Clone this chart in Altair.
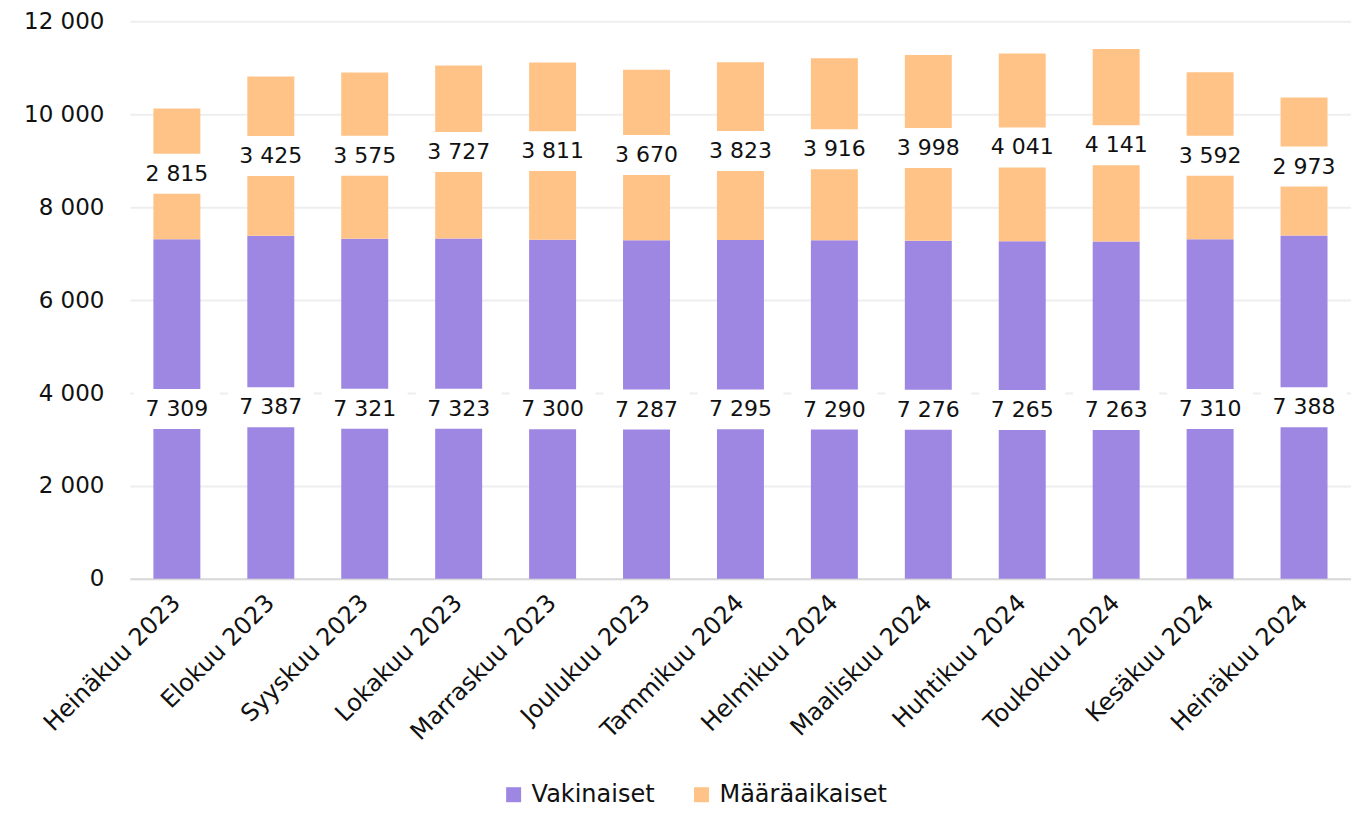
import altair as alt
import pandas as pd

months = ["Heinäkuu 2023", "Elokuu 2023", "Syyskuu 2023", "Lokakuu 2023", "Marraskuu 2023",
          "Joulukuu 2023", "Tammikuu 2024", "Helmikuu 2024", "Maaliskuu 2024", "Huhtikuu 2024",
          "Toukokuu 2024", "Kesäkuu 2024", "Heinäkuu 2024"]
vakinaiset = [7309, 7387, 7321, 7323, 7300, 7287, 7295, 7290, 7276, 7265, 7263, 7310, 7388]
maaraaikaiset = [2815, 3425, 3575, 3727, 3811, 3670, 3823, 3916, 3998, 4041, 4141, 3592, 2973]
series = ["Vakinaiset", "Määräaikaiset"]
colors = ["#9E86E3", "#FFC388"]

rows = []
for m, v, t in zip(months, vakinaiset, maaraaikaiset):
    rows.append({"month": m, "series": series[0], "start": 0, "end": v, "value": v})
    rows.append({"month": m, "series": series[1], "start": v, "end": v + t, "value": t})
df = pd.DataFrame(rows)
df["mid"] = (df["start"] + df["end"]) / 2
df["label"] = df["value"].map(lambda x: f"{x:,}".replace(",", " "))

FONT = "DejaVu Sans"

x = alt.X("month:N", sort=months, title=None,
          scale=alt.Scale(paddingInner=0.5, paddingOuter=0.25),
          axis=alt.Axis(labelAngle=-45, labelFontSize=24, labelFont=FONT, labelColor="#111",
                        labelAlign="right", labelBaseline="middle", labelLimit=0,
                        ticks=False, domainColor="#d9d9d9", domainWidth=2, labelPadding=20,
                        grid=False))

bars = alt.Chart(df).mark_bar().encode(
    x=x,
    y=alt.Y("start:Q", title=None,
            scale=alt.Scale(domain=[0, 12000], nice=False),
            axis=alt.Axis(values=[0, 2000, 4000, 6000, 8000, 10000, 12000],
                          labelExpr="replace(format(datum.value, ','), ',', ' ')",
                          labelFontSize=23, labelFont=FONT, labelColor="#111",
                          ticks=False, domain=False, gridColor="#eeeeee", gridWidth=2,
                          labelPadding=26)),
    y2="end:Q",
    color=alt.Color("series:N", scale=alt.Scale(domain=series, range=colors), title=None,
                    sort=series,
                    legend=alt.Legend(orient="none", direction="horizontal", legendX=372,
                                      legendY=762, symbolType="square", symbolSize=225,
                                      labelFontSize=24, labelFont=FONT, labelColor="#111",
                                      labelLimit=0,
                                      labelOffset=6, columnPadding=34, symbolStrokeWidth=0)),
)

boxes = alt.Chart(df).mark_tick(color="white", thickness=40, size=86, opacity=1).encode(
    x=alt.X("month:N", sort=months),
    y=alt.Y("mid:Q"),
)

labels = alt.Chart(df).mark_text(fontSize=22, font=FONT, color="#111").encode(
    x=alt.X("month:N", sort=months),
    y=alt.Y("mid:Q"),
    text="label:N",
)

chart = alt.layer(bars, boxes, labels).properties(
    width=1222, height=558,
    autosize=alt.AutoSizeParams(type="none"),
    padding={"left": 122, "top": 13, "right": 0, "bottom": 228},
).configure_view(stroke=None)

chart.save("out.html", embed_options={"renderer": "svg", "actions": False})
